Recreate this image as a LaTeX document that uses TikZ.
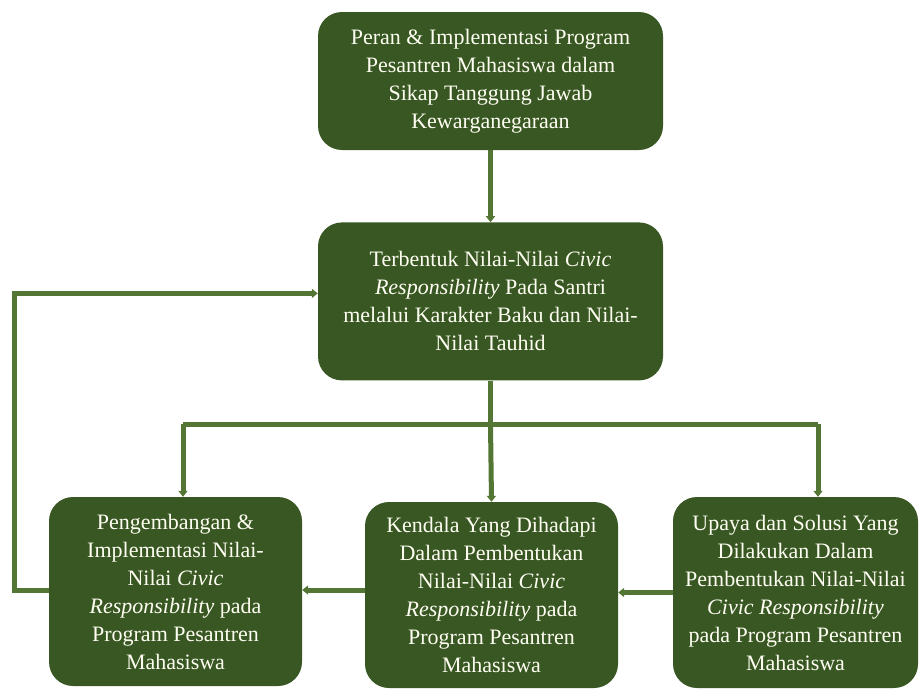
\documentclass[tikz,border=0pt]{standalone}
\usepackage{fontspec}
\setmainfont{Liberation Serif}
\newfontfamily\boxfont{Liberation Serif}
\usetikzlibrary{shapes,arrows.meta,positioning}

\definecolor{boxgreen}{RGB}{56,87,35}
\definecolor{linegreen}{RGB}{84,118,52}

\begin{document}
\begin{tikzpicture}[
    x=1pt,y=-1pt,
    box/.style={rectangle,rounded corners=24pt,fill=boxgreen,text=white!95!yellow,
                align=center,inner sep=0pt,font=\boxfont\fontsize{22}{28}\selectfont},
    line/.style={draw=linegreen,line width=5pt},
    arrow/.style={line,-{Triangle[width=9pt,length=6pt]}}
]
\useasboundingbox (0,0) rectangle (920,688);

%--- Nodes: top and middle ---%
\node[box,minimum width=345pt,minimum height=138pt] (peran) at (490.5,81)
    {Peran \& Implementasi Program\\Pesantren Mahasiswa dalam\\Sikap Tanggung Jawab\\Kewarganegaraan};
\node[box,minimum width=345pt,minimum height=158pt,below=72pt of peran] (nilai)
    {Terbentuk Nilai-Nilai \textit{Civic}\\\textit{Responsibility} Pada Santri\\melalui Karakter Baku dan Nilai-\\Nilai Tauhid};

%--- Nodes: bottom row ---%
\node[box,minimum width=253pt,minimum height=189pt] (pengembangan) at (175.5,591.5)
    {Pengembangan \&\\Implementasi Nilai-\\Nilai \textit{Civic}\\\textit{Responsibility} pada\\Program Pesantren\\Mahasiswa};
\node[box,minimum width=253pt,minimum height=186pt] (kendala) at (491.5,595)
    {Kendala Yang Dihadapi\\Dalam Pembentukan\\Nilai-Nilai \textit{Civic}\\\textit{Responsibility} pada\\Program Pesantren\\Mahasiswa};
\node[box,minimum width=245pt,minimum height=191pt] (upaya) at (795.5,592.5)
    {Upaya dan Solusi Yang\\Dilakukan Dalam\\Pembentukan Nilai-Nilai\\\textit{Civic Responsibility}\\pada Program Pesantren\\Mahasiswa};

\coordinate (split) at (490.5,424);
\coordinate (kendalaout) at ([yshift=5pt]kendala.west);

%--- Main flow ---%
\draw[arrow] (peran) -- (nilai);
\draw[line] (nilai.south) -- (split);
\draw[line] ([xshift=7.5pt]pengembangan.north |- split) -- ([xshift=22.5pt]upaya.north |- split);
\draw[arrow] ([xshift=7.5pt]pengembangan.north |- split) -- ([xshift=7.5pt]pengembangan.north);
\draw[arrow] (split) -- (kendala.north);
\draw[arrow] ([xshift=22.5pt]upaya.north |- split) -- ([xshift=22.5pt]upaya.north);

%--- Bottom row, right to left ---%
\draw[arrow] (upaya.west) -- (kendala.east |- upaya.west);
\draw[arrow] (kendalaout) -- (pengembangan.east |- kendalaout);

%--- Feedback to the middle box ---%
\draw[arrow] ([yshift=1pt]pengembangan.west) -- ++(-34,0) |- ([yshift=8pt]nilai.west);

\end{tikzpicture}
\end{document}
